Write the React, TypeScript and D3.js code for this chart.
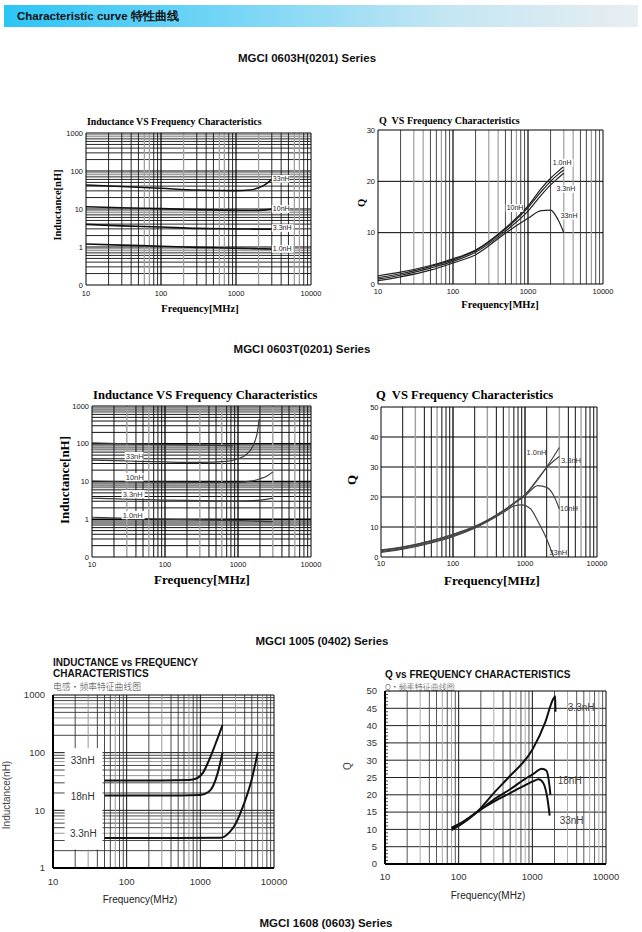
import React from 'react';
import * as d3 from 'd3';

// ---------------- DATA ----------------
const HEADER_TEXT = 'Characteristic curve 特性曲线';
const SECTION_TITLES = ['MGCI 0603H(0201) Series', 'MGCI 0603T(0201) Series', 'MGCI 1005 (0402) Series', 'MGCI 1608 (0603) Series'];
const FREQ_TICKS = [10, 100, 1000, 10000];
const FREQ_TICK_LABELS = ['10', '100', '1000', '10000'];
const L_TICKS_A = [0.1, 1, 10, 100, 1000];
const L_TICK_LABELS_A = ['0', '1', '10', '100', '1000'];
const L_TICKS_E = [1, 10, 100, 1000];
const L_TICK_LABELS_E = ['1', '10', '100', '1000'];
const Q_TICKS_30 = [0, 10, 20, 30];
const Q_TICKS_50 = [0, 10, 20, 30, 40, 50];
const Q_TICKS_50_5 = [0, 5, 10, 15, 20, 25, 30, 35, 40, 45, 50];

// Chart A: MGCI 0603H inductance
const A_NAMES = ['33nH', '10nH', '3.3nH', '1.0nH'];
const A_FREQ = [10, 30, 100, 300, 1000, 1500, 2000, 2500, 3000];
const A_L33 = [43, 39, 35, 31.5, 30.5, 31.5, 36, 45, 60];
const A_L10 = [11.5, 10.8, 10.2, 9.6, 9.2, 9.1, 9.2, 9.5, 10];
const A_L3_3 = [3.95, 3.6, 3.35, 3.1, 3.0, 2.97, 2.95, 2.95, 2.95];
const A_L1_0 = [1.2, 1.12, 1.05, 0.98, 0.93, 0.91, 0.9, 0.89, 0.88];
const A_LABEL_POS = [[3100, 62], [3100, 10], [3100, 3.16], [3100, 0.89]];

// Chart B: MGCI 0603H Q
const B_NAMES = ['1.0nH', '3.3nH', '10nH', '33nH'];
const B_FREQ = [10, 20, 50, 100, 200, 500, 1000, 1500, 2000, 2500, 3000];
const B_Q1_0 = [1.6, 2.3, 3.6, 4.9, 6.6, 10.9, 15.2, 18.6, 20.6, 21.9, 22.9];
const B_Q3_3 = [0.95, 1.7, 3.1, 4.4, 6.2, 10.3, 14.2, 17.3, 19.3, 20.6, 21.6];
const B_Q10 = [1.25, 2.0, 3.4, 4.7, 6.5, 10.7, 14.9, 18.0, 20.0, 21.3, 22.2];
const B_Q33 = [0.65, 1.4, 2.7, 4.1, 5.7, 9.9, 12.8, 14.3, 14.4, 12.6, 10];
const B_LABEL_POS = [[2140, 23.6], [2400, 18.5], [520, 14.8], [2730, 13.3]];

// Chart C: MGCI 0603T inductance
const C_NAMES = ['33nH', '10nH', '3.3nH', '1.0nH'];
const C_F33 = [10, 30, 100, 300, 700, 1000, 1300, 1500, 1700, 1850, 1950];
const C_L33 = [37, 35, 33, 32, 34, 40, 52, 70, 115, 210, 450];
const C_F100 = [10, 30, 100, 300, 500, 850];
const C_L100 = [106, 100, 95, 92, 90, 88];
const C_F = [10, 100, 1000, 1500, 2000, 2500, 3000];
const C_L10 = [10.3, 9.6, 9.5, 10.2, 11.8, 14, 18];
const C_L3_3 = [3.6, 3.2, 3.05, 3.1, 3.2, 3.4, 3.6];
const C_L1_0 = [1.13, 1.0, 0.92, 0.9, 0.88, 0.87, 0.86];
const C_LABEL_POS = [[29, 47], [29, 13], [26.3, 4.6], [26.3, 1.29]];

// Chart D: MGCI 0603T Q
const D_NAMES = ['1.0nH', '3.3nH', '10nH', '33nH'];
const D_FREQ = [10, 20, 50, 100, 200, 500, 800, 1000, 1500, 2000, 2500, 3000];
const D_Q1_0 = [2.4, 3.4, 5.5, 7.6, 10.2, 15.5, 19, 20.8, 26, 30, 33.5, 36.5];
const D_Q3_3 = [2.1, 3.2, 5.3, 7.4, 10, 15.3, 18.8, 20.6, 25.8, 29.8, 32, 33.5];
const D_Q10 = [1.8, 2.9, 5.0, 7.1, 9.8, 15.3, 18.8, 20.3, 23.8, 23.2, 20.5, 16];
const D_F33 = [10, 20, 50, 100, 200, 500, 700, 900, 1200, 1500, 2000, 2500];
const D_Q33 = [1.5, 2.6, 4.7, 6.8, 9.6, 14.8, 17, 17.4, 16, 12, 6, 0];
const D_LABEL_POS = [[1050, 35], [3160, 32.3], [3060, 16.3], [2180, 1.7]];

// Chart E: MGCI 1005 inductance
const E_NAMES = ['33nH', '18nH', '3.3nH'];
const E_F33 = [50, 300, 700, 900, 1100, 1300, 1600, 2000];
const E_L33 = [33, 33, 33.5, 36, 46, 72, 140, 300];
const E_F18 = [50, 300, 1000, 1300, 1500, 1700, 2000];
const E_L18 = [18, 18, 18.5, 21, 27, 42, 100];
const E_F3_3 = [50, 500, 1900, 2500, 3000, 3500, 4000, 5000, 6000];
const E_L3_3 = [3.3, 3.3, 3.35, 4.2, 5.8, 9, 14, 35, 100];
const E_LABEL_POS = [[17.4, 72], [17.4, 17.1], [17, 4.0]];
const E_MASK = [[14.4, 47], [2.1, 120]];

// Chart F: MGCI 1005 Q
const F_NAMES = ['3.3nH', '18nH', '33nH'];
const F_F3_3 = [80, 100, 177, 300, 500, 1000, 1500, 1900, 2050, 2060];
const F_Q3_3 = [9.8, 11, 15, 20.5, 25.5, 33, 41, 47.5, 48.5, 44];
const F_F18 = [80, 100, 177, 300, 500, 800, 1000, 1350, 1550, 1700, 1760];
const F_Q18 = [10.5, 11.5, 15, 18.6, 21.6, 24.6, 25.8, 27.5, 27, 23, 20];
const F_F33 = [80, 100, 177, 300, 500, 800, 1000, 1220, 1400, 1600, 1720];
const F_Q33 = [10.2, 11.2, 15, 18, 20.5, 22.8, 23.8, 24.5, 23.5, 19, 14];
const F_LABEL_POS = [[3030, 45.3], [2210, 24.2], [2350, 12.7]];

// ---------------- RENDERING ----------------
const SERIF = "'Liberation Serif', 'Times New Roman', serif";
const SANS = "'Liberation Sans', Arial, Helvetica, sans-serif";
const CJK = "'Noto Sans CJK SC', sans-serif";

type Sty = { c: string; w: number };
type Series = { x: number[]; y: number[] };
type Lbl = { text: string; pos: number[] };

function logGrid(d: [number, number]) {
  const out: { v: number; m: number }[] = [];
  for (let e = Math.floor(Math.log10(d[0])); e < Math.ceil(Math.log10(d[1])); e++) {
    for (let m = 1; m <= 9; m++) {
      const v = m * Math.pow(10, e);
      if (v > d[0] * 1.0001 && v < d[1] * 0.9999) out.push({ v, m });
    }
  }
  return out;
}

type PanelProps = {
  l: number; r: number; t: number; b: number;
  yLog: boolean; yDomain: [number, number]; yStep?: number;
  vStyle: (m: number, v: number) => Sty; hStyle: (m: number, v: number) => Sty;
  frame: { top: number; right: number; left: number; bottom: number };
  yTicks: number[]; yTickLabels: string[]; tickFont: number; tickFamily: string; tickColor: string;
  yTickDx: number; xTickY: number; yTickDy?: number;
  series: Series[]; curveW: number; curveC: string;
  labels: Lbl[]; labelFont: number; labelFamily: string; labelColor: string; labelBg: boolean;
  mask?: number[][];
  minorLeft?: number;
};

function Panel(p: PanelProps) {
  const x = d3.scaleLog().domain([10, 10000]).range([p.l, p.r]);
  const y: any = p.yLog
    ? d3.scaleLog().domain(p.yDomain).range([p.b, p.t])
    : d3.scaleLinear().domain(p.yDomain).range([p.b, p.t]);
  const vg = logGrid([10, 10000]);
  const hg = p.yLog
    ? logGrid(p.yDomain)
    : d3.range(p.yDomain[0] + (p.yStep as number), p.yDomain[1] - 0.001, p.yStep as number).map((v) => ({ v, m: 0 }));
  const line = d3.line<number[]>().x((d) => x(d[0])).y((d) => y(d[1])).curve(d3.curveMonotoneX);
  return (
    <g>
      {hg.map((g, i) => {
        const s = p.hStyle(g.m, g.v);
        return <line key={'h' + i} x1={p.l} x2={p.r} y1={y(g.v)} y2={y(g.v)} stroke={s.c} strokeWidth={s.w} />;
      })}
      {vg.map((g, i) => {
        const s = p.vStyle(g.m, g.v);
        return <line key={'v' + i} x1={x(g.v)} x2={x(g.v)} y1={p.t} y2={p.b} stroke={s.c} strokeWidth={s.w} />;
      })}
      {p.minorLeft
        ? d3.range(p.yDomain[0] + 1, p.yDomain[1], 1).map((v, i) => (
            <line key={'mt' + i} x1={p.l} x2={p.l + p.minorLeft!} y1={y(v)} y2={y(v)} stroke="#222" strokeWidth={0.8} />
          ))
        : null}
      {p.mask ? (
        <rect x={x(p.mask[0][0])} y={y(p.mask[1][1])} width={x(p.mask[0][1]) - x(p.mask[0][0])} height={y(p.mask[1][0]) - y(p.mask[1][1])} fill="#fff" />
      ) : null}
      <line x1={p.l} x2={p.r} y1={p.t} y2={p.t} stroke="#000" strokeWidth={p.frame.top} />
      <line x1={p.r} x2={p.r} y1={p.t} y2={p.b} stroke="#000" strokeWidth={p.frame.right} />
      <line x1={p.l} x2={p.l} y1={p.t} y2={p.b} stroke="#000" strokeWidth={p.frame.left} />
      <line x1={p.l} x2={p.r} y1={p.b} y2={p.b} stroke="#000" strokeWidth={p.frame.bottom} />
      {p.series.map((s, i) => (
        <path key={'s' + i} d={line(s.x.map((xv, j) => [xv, s.y[j]])) || ''} fill="none" stroke={p.curveC} strokeWidth={p.curveW} strokeLinejoin="round" />
      ))}
      {p.labels.map((lb, i) => {
        const px = x(lb.pos[0]);
        const py = y(lb.pos[1]);
        const w = lb.text.length * p.labelFont * 0.56;
        return (
          <g key={'l' + i}>
            {p.labelBg ? <rect x={px - 1} y={py - p.labelFont * 0.55} width={w + 2} height={p.labelFont * 1.1} fill="#fff" /> : null}
            <text x={px} y={py} dy="0.35em" fontSize={p.labelFont} fontFamily={p.labelFamily} fill={p.labelColor}>
              {lb.text}
            </text>
          </g>
        );
      })}
      {p.yTicks.map((v, i) => (
        <text key={'yt' + i} x={p.l - p.yTickDx} y={y(v) + (p.yTickDy || 0)} dy="0.35em" textAnchor="end" fontSize={p.tickFont} fontFamily={p.tickFamily} fill={p.tickColor}>
          {p.yTickLabels[i]}
        </text>
      ))}
      {FREQ_TICKS.map((v, i) => (
        <text key={'xt' + i} x={x(v)} y={p.xTickY} dy="0.35em" textAnchor="middle" fontSize={p.tickFont} fontFamily={p.tickFamily} fill={p.tickColor}>
          {FREQ_TICK_LABELS[i]}
        </text>
      ))}
    </g>
  );
}

const BLK = '#111';
const GRY = '#a0a0a0';
const thin = { top: 1, right: 1, left: 1, bottom: 1 };
const heavyLB = { top: 1, right: 1, left: 2, bottom: 2 };

const topV = (m: number, v: number): Sty => (m === 1 ? { c: '#000', w: 1.2 } : m === 6 || m === 7 || v === 200 || v === 2000 ? { c: GRY, w: 1.3 } : { c: BLK, w: 0.9 });
const topH = (m: number): Sty => (m === 1 ? { c: '#000', w: 1.2 } : m >= 8 ? { c: GRY, w: 1.3 } : { c: BLK, w: 0.9 });
const qV = (m: number): Sty => (m === 1 ? { c: '#000', w: 1.2 } : m === 3 || m === 4 || m === 7 ? { c: GRY, w: 1.2 } : { c: '#333', w: 0.9 });
const qH = (): Sty => ({ c: '#000', w: 1 });
const cH = (m: number): Sty => (m === 1 ? { c: '#000', w: 1.4 } : m >= 7 ? { c: '#8a8a8a', w: 2 } : { c: BLK, w: 1 });
const cV = (m: number): Sty => (m === 1 ? { c: '#000', w: 1.3 } : m === 3 || m === 6 ? { c: GRY, w: 1.4 } : { c: BLK, w: 1 });
const eV = (m: number): Sty => (m === 1 ? { c: '#111', w: 1 } : m === 3 || m === 7 ? { c: '#999', w: 1 } : { c: '#333', w: 0.9 });
const eH = (m: number): Sty => (m === 1 ? { c: '#111', w: 1 } : m === 4 || m === 7 ? { c: '#999', w: 1 } : { c: '#333', w: 0.9 });
const fV = (m: number): Sty => (m === 1 ? { c: '#111', w: 1 } : m === 3 || m === 6 || m === 8 ? { c: '#aaa', w: 1 } : { c: '#444', w: 0.9 });
const fH = (): Sty => ({ c: '#222', w: 1 });

const lbls = (names: string[], pos: number[][]): Lbl[] => names.map((n, i) => ({ text: n, pos: pos[i] }));

export default function App() {
  return (
    <svg width={642} height={932} style={{ position: 'absolute', left: 0, top: 0, background: '#fff' }}>
      <defs>
        <linearGradient id="hdr" x1="0" x2="1" y1="0" y2="0">
          <stop offset="0" stopColor="#2cc5f6" />
          <stop offset="0.35" stopColor="#74d5f6" />
          <stop offset="0.7" stopColor="#c4e6f3" />
          <stop offset="1" stopColor="#e8eef2" />
        </linearGradient>
      </defs>
      <rect x={0} y={0} width={642} height={932} fill="#fff" />
      <rect x={4} y={5} width={634} height={22} fill="url(#hdr)" />
      <text x={17} y={20} fontSize={11.5} fontWeight="bold" fontFamily={SANS} fill="#111">{HEADER_TEXT}</text>

      {[[307, 58], [302, 349], [322, 641], [326, 923]].map((c, i) => (
        <text key={i} x={c[0]} y={c[1]} dy="0.35em" textAnchor="middle" fontSize={11.5} fontWeight="bold" fontFamily={SANS} fill="#111">
          {SECTION_TITLES[i]}
        </text>
      ))}

      {/* Chart A */}
      <text x={87} y={125} fontSize={9.8} fontWeight="bold" fontFamily={SERIF}>Inductance VS Frequency Characteristics</text>
      <Panel l={86} r={311} t={133} b={285} yLog yDomain={[0.1, 1000]} vStyle={topV} hStyle={topH} frame={thin}
        yTicks={L_TICKS_A} yTickLabels={L_TICK_LABELS_A} tickFont={7.5} tickFamily={SANS} tickColor="#111" yTickDx={3} xTickY={293}
        series={[{ x: A_FREQ, y: A_L33 }, { x: A_FREQ, y: A_L10 }, { x: A_FREQ, y: A_L3_3 }, { x: A_FREQ, y: A_L1_0 }]}
        curveW={1.6} curveC="#111" labels={lbls(A_NAMES, A_LABEL_POS)} labelFont={7} labelFamily={SANS} labelColor="#222" labelBg />
      <text transform="translate(61,205) rotate(-90)" textAnchor="middle" fontSize={10.5} fontWeight="bold" fontFamily={SERIF}>Inductance[nH]</text>
      <text x={200} y={312} textAnchor="middle" fontSize={10.5} fontWeight="bold" fontFamily={SERIF}>Frequency[MHz]</text>

      {/* Chart B */}
      <text x={379} y={123.5} fontSize={10} fontWeight="bold" fontFamily={SERIF} style={{ whiteSpace: 'pre' }}>Q  VS Frequency Characteristics</text>
      <Panel l={378} r={603} t={130} b={284} yLog={false} yDomain={[0, 30]} yStep={10} vStyle={qV} hStyle={qH} frame={thin}
        yTicks={Q_TICKS_30} yTickLabels={Q_TICKS_30.map(String)} tickFont={7.5} tickFamily={SANS} tickColor="#111" yTickDx={3} xTickY={291}
        series={[{ x: B_FREQ, y: B_Q1_0 }, { x: B_FREQ, y: B_Q3_3 }, { x: B_FREQ, y: B_Q10 }, { x: B_FREQ, y: B_Q33 }]}
        curveW={1.2} curveC="#222" labels={lbls(B_NAMES, B_LABEL_POS)} labelFont={7} labelFamily={SANS} labelColor="#222" labelBg />
      <text transform="translate(365,203) rotate(-90)" textAnchor="middle" fontSize={10.5} fontWeight="bold" fontFamily={SERIF}>Q</text>
      <text x={500} y={308} textAnchor="middle" fontSize={10.5} fontWeight="bold" fontFamily={SERIF}>Frequency[MHz]</text>

      {/* Chart C */}
      <text x={93} y={399} fontSize={12.6} fontWeight="bold" fontFamily={SERIF}>Inductance VS Frequency Characteristics</text>
      <Panel l={92} r={311} t={406} b={557} yLog yDomain={[0.1, 1000]} vStyle={cV} hStyle={cH} frame={thin}
        yTicks={L_TICKS_A} yTickLabels={L_TICK_LABELS_A} tickFont={7.5} tickFamily={SANS} tickColor="#111" yTickDx={3} xTickY={564}
        series={[{ x: C_F100, y: C_L100 }, { x: C_F33, y: C_L33 }, { x: C_F, y: C_L10 }, { x: C_F, y: C_L3_3 }, { x: C_F, y: C_L1_0 }]}
        curveW={1.2} curveC="#3a3a3a" labels={lbls(C_NAMES, C_LABEL_POS)} labelFont={7.5} labelFamily={SANS} labelColor="#333" labelBg />
      <text transform="translate(69,480) rotate(-90)" textAnchor="middle" fontSize={13} fontWeight="bold" fontFamily={SERIF}>Inductance[nH]</text>
      <text x={202} y={584} textAnchor="middle" fontSize={13} fontWeight="bold" fontFamily={SERIF}>Frequency[MHz]</text>

      {/* Chart D */}
      <text x={376} y={399} fontSize={12.6} fontWeight="bold" fontFamily={SERIF} style={{ whiteSpace: 'pre' }}>Q  VS Frequency Characteristics</text>
      <Panel l={381} r={597} t={407} b={557} yLog={false} yDomain={[0, 50]} yStep={10} vStyle={cV} hStyle={qH} frame={thin}
        yTicks={Q_TICKS_50} yTickLabels={Q_TICKS_50.map(String)} tickFont={7.5} tickFamily={SANS} tickColor="#111" yTickDx={2.5} xTickY={563}
        series={[{ x: D_FREQ, y: D_Q1_0 }, { x: D_FREQ, y: D_Q3_3 }, { x: D_FREQ, y: D_Q10 }, { x: D_F33, y: D_Q33 }]}
        curveW={1.2} curveC="#444" labels={lbls(D_NAMES, D_LABEL_POS)} labelFont={7.5} labelFamily={SANS} labelColor="#333" labelBg={false} />
      <text transform="translate(356,480) rotate(-90)" textAnchor="middle" fontSize={13} fontWeight="bold" fontFamily={SERIF}>Q</text>
      <text x={492} y={585} textAnchor="middle" fontSize={13} fontWeight="bold" fontFamily={SERIF}>Frequency[MHz]</text>

      {/* Chart E */}
      <text x={53} y={665.5} fontSize={10} fontWeight="bold" fontFamily={SANS} fill="#111">INDUCTANCE vs FREQUENCY</text>
      <text x={53} y={676.5} fontSize={10} fontWeight="bold" fontFamily={SANS} fill="#111">CHARACTERISTICS</text>
      <text x={53} y={689.5} fontSize={8.8} fontWeight={300} fontFamily={CJK} fill="#444">电感·频率特征曲线图</text>
      <Panel l={53} r={274} t={695} b={868} yLog yDomain={[1, 1000]} vStyle={eV} hStyle={eH} frame={heavyLB}
        yTicks={L_TICKS_E} yTickLabels={L_TICK_LABELS_E} tickFont={9.5} tickFamily={SANS} tickColor="#333" yTickDx={8} xTickY={882}
        series={[{ x: E_F33, y: E_L33 }, { x: E_F18, y: E_L18 }, { x: E_F3_3, y: E_L3_3 }]}
        curveW={2} curveC="#111" labels={lbls(E_NAMES, E_LABEL_POS)} labelFont={10} labelFamily={SANS} labelColor="#333" labelBg={false}
        mask={E_MASK} />
      <text transform="translate(10,795) rotate(-90)" textAnchor="middle" fontSize={10} fontFamily={SANS} fill="#444">Inductance(nH)</text>
      <text x={140} y={903} textAnchor="middle" fontSize={10} fontFamily={SANS} fill="#222">Frequency(MHz)</text>

      {/* Chart F */}
      <text x={385} y={677.5} fontSize={10} fontWeight="bold" fontFamily={SANS} fill="#111">Q vs FREQUENCY CHARACTERISTICS</text>
      <text x={385} y={689.5} fontSize={8} fontWeight={300} fontFamily={CJK} fill="#444">Q·频率特征曲线图</text>
      <Panel l={385} r={606} t={691} b={864} yLog={false} yDomain={[0, 50]} yStep={5} vStyle={fV} hStyle={fH} frame={heavyLB}
        yTicks={Q_TICKS_50_5} yTickLabels={Q_TICKS_50_5.map(String)} tickFont={9.5} tickFamily={SANS} tickColor="#333" yTickDx={8} xTickY={877}
        series={[{ x: F_F3_3, y: F_Q3_3 }, { x: F_F18, y: F_Q18 }, { x: F_F33, y: F_Q33 }]}
        curveW={2} curveC="#111" labels={lbls(F_NAMES, F_LABEL_POS)} labelFont={10} labelFamily={SANS} labelColor="#444" labelBg={false}
        minorLeft={3} />
      <text transform="translate(351,766) rotate(-90)" textAnchor="middle" fontSize={10} fontFamily={SANS} fill="#444">Q</text>
      <text x={488} y={899} textAnchor="middle" fontSize={10} fontFamily={SANS} fill="#222">Frequency(MHz)</text>
    </svg>
  );
}
